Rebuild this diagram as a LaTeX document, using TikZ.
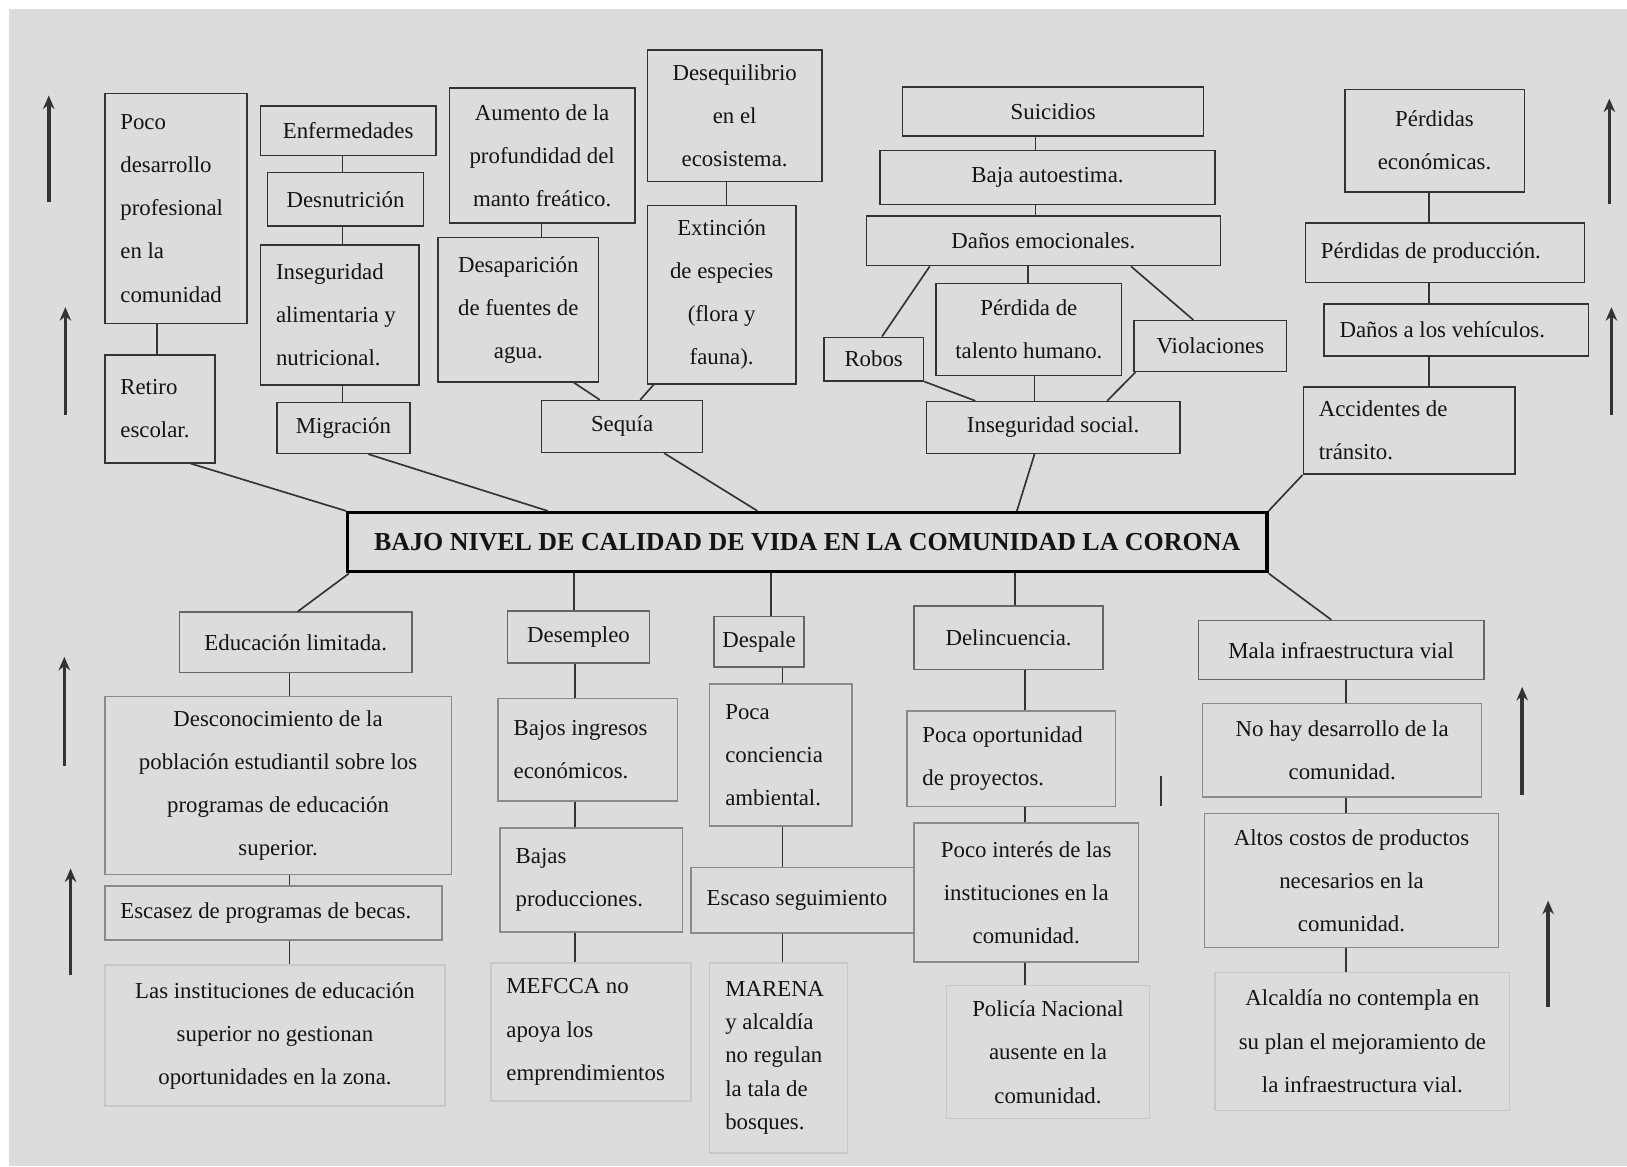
\documentclass[tikz,border=0pt]{standalone}
\usepackage{fontspec}
\setmainfont{Liberation Serif}
\usetikzlibrary{arrows.meta}
\definecolor{fondo}{HTML}{DCDCDC}
\definecolor{borde}{HTML}{333333}
\definecolor{bordem}{HTML}{666666}
\definecolor{bordeg}{HTML}{8A8A8A}
\definecolor{bordec}{HTML}{C8C8C8}
\definecolor{texto}{HTML}{141414}
\newcommand\fsz{\fontsize{22}{41.5}\selectfont}

\begin{document}
\begin{tikzpicture}[x=1pt,y=-1pt,
	caja/.style={draw=borde,line width=1.4pt,inner sep=0pt,font=\fsz,text=texto,align=center},
	cajam/.style={caja,draw=bordem},
	cajag/.style={caja,draw=bordeg},
	cajac/.style={caja,draw=bordec},
	tam/.style 2 args={minimum width=#1,minimum height=#2},
	izq/.style={text width=#1,align=flush left},
	enlace/.style={draw=borde,line width=1.6pt},
	flecha/.style={draw=borde,line width=3.5pt,-{Stealth[length=13pt,width=11pt]}}]
	\useasboundingbox (0,0) rectangle (1568,1124);
	\fill[white] (0,0) rectangle (1568,1124);
	\fill[fondo] (9,9) rectangle (1568,1124);

	% efectos
	\node[caja,tam={137pt}{222pt},izq=107pt] (poco) at (169.5,201) {Poco\\desarrollo\\profesional\\en la\\comunidad};
	\node[caja,tam={106pt}{104pt},izq=76pt] (retiro) at (154,394) {Retiro\\escolar.};
	\node[caja,tam={169pt}{48pt}] (enferm) at (335.5,126) {Enfermedades};
	\node[caja,tam={150pt}{52pt}] (desnut) at (333,192) {Desnutrición};
	\node[caja,tam={153pt}{135pt},izq=123pt] (insal) at (327.5,303.5) {Inseguridad\\alimentaria y\\nutricional.};
	\node[caja,tam={128pt}{49pt}] (migra) at (331,412.5) {Migración};
	\node[caja,tam={179pt}{130pt}] (aumento) at (522.5,150) {Aumento de la\\profundidad del\\manto freático.};
	\node[caja,tam={155pt}{139pt}] (desap) at (499.5,298.5) {Desaparición\\de fuentes de\\agua.};
	\node[caja,tam={168pt}{127pt}] (deseq) at (708,111.5) {Desequilibrio\\en el\\ecosistema.};
	\node[caja,tam={143pt}{172pt}] (extin) at (695.5,284) {Extinción\\de especies\\(flora y\\fauna).};
	\node[caja,tam={155pt}{50pt}] (sequia) at (599.5,411) {Sequía};
	\node[caja,tam={290pt}{47pt}] (suic) at (1015,107.5) {Suicidios};
	\node[caja,tam={323pt}{52pt}] (autoest) at (1009.5,171) {Baja autoestima.};
	\node[caja,tam={341pt}{48pt}] (danos) at (1005.5,232) {Daños emocionales.};
	\node[caja,tam={96pt}{42pt}] (robos) at (842,346) {Robos};
	\node[caja,tam={179pt}{89pt}] (talento) at (991.5,317.5) {Pérdida de\\talento humano.};
	\node[caja,tam={147pt}{49pt}] (violac) at (1166.5,333.5) {Violaciones};
	\node[caja,tam={244pt}{50pt}] (insoc) at (1015,412) {Inseguridad social.};
	\node[caja,tam={173pt}{99pt}] (peco) at (1382.5,135.5) {Pérdidas\\económicas.};
	\node[caja,tam={269pt}{57pt},izq=239pt] (pprod) at (1392.5,243.5) {Pérdidas de producción.};
	\node[caja,tam={255pt}{50pt},izq=225pt] (vehic) at (1403.5,318) {Daños a los vehículos.};
	\node[caja,tam={204pt}{84pt},izq=174pt] (accid) at (1358,415) {Accidentes de\\tránsito.};

	% problema central
	\node[caja,draw=black,line width=3.2pt,tam={886pt}{57pt},font=\fontsize{25}{30}\selectfont\bfseries] (central) at (778,522.5) {BAJO NIVEL DE CALIDAD DE VIDA EN LA COMUNIDAD LA CORONA};

	% causas
	\node[cajam,tam={224pt}{58pt}] (educ) at (285,619) {Educación limitada.};
	\node[cajag,tam={334pt}{172pt}] (descon) at (268,757) {Desconocimiento de la\\población estudiantil sobre los\\programas de educación\\superior.};
	\node[cajag,tam={325pt}{52pt},izq=295pt] (escasez) at (263.5,880) {Escasez de programas de becas.};
	\node[cajac,tam={328pt}{136pt}] (instit) at (265,998) {Las instituciones de educación\\superior no gestionan\\oportunidades en la zona.};
	\node[cajam,tam={137pt}{50pt}] (desemp) at (557.5,614) {Desempleo};
	\node[cajag,tam={173pt}{99pt},izq=143pt] (ingresos) at (566.5,722.5) {Bajos ingresos\\económicos.};
	\node[cajag,tam={176pt}{100pt},izq=146pt] (bprod) at (570,848) {Bajas\\producciones.};
	\node[cajac,tam={193pt}{133pt},izq=163pt] (mefcca) at (569.5,994.5) {MEFCCA no\\apoya los\\emprendimientos};
	\node[cajam,tam={87pt}{49pt}] (despale) at (731.5,618.5) {Despale};
	\node[cajag,tam={137pt}{137pt},izq=107pt] (concien) at (752.5,727.5) {Poca\\conciencia\\ambiental.};
	\node[cajag,tam={215pt}{63pt},izq=185pt] (seguim) at (773.5,867.5) {Escaso seguimiento};
	\node[cajac,tam={133pt}{183pt},izq=103pt,font=\fontsize{22}{32}\selectfont] (marena) at (750.5,1019.5) {MARENA\\y alcaldía\\no regulan\\la tala de\\bosques.};
	\node[cajam,tam={182pt}{61pt}] (delinc) at (972,614.5) {Delincuencia.};
	\node[cajag,tam={201pt}{92pt},izq=171pt] (oportun) at (974.5,731) {Poca oportunidad\\de proyectos.};
	\node[cajag,tam={216pt}{134pt}] (interes) at (989,860) {Poco interés de las\\instituciones en la\\comunidad.};
	\node[cajac,tam={196pt}{128pt}] (policia) at (1010,1014) {Policía Nacional\\ausente en la\\comunidad.};
	\node[cajam,tam={275pt}{57pt}] (vial) at (1292.5,626.5) {Mala infraestructura vial};
	\node[cajag,tam={269pt}{90pt}] (desarr) at (1293.5,723) {No hay desarrollo de la\\comunidad.};
	\node[cajag,tam={283pt}{129pt}] (costos) at (1302.5,848.5) {Altos costos de productos\\necesarios en la\\comunidad.};
	\node[cajac,tam={284pt}{133pt}] (alcaldia) at (1313,1003.5) {Alcaldía no contempla en\\su plan el mejoramiento de\\la infraestructura vial.};

	% enlaces arriba
	\draw[enlace] ([xshift=-18.5pt]poco.south) -- ([xshift=-3pt]retiro.north);
	\draw[enlace] ([xshift=-24pt]retiro.south east) -- (central.north west);
	\draw[enlace] ([xshift=-5.5pt]enferm.south) -- ([xshift=-3pt]desnut.north);
	\draw[enlace] ([xshift=-3pt]desnut.south) -- ([xshift=2.5pt]insal.north);
	\draw[enlace] ([xshift=2.5pt]insal.south) -- ([xshift=-1pt]migra.north);
	\draw[enlace] ([xshift=24pt]migra.south) -- ([xshift=-250pt]central.north);
	\draw[enlace] ([xshift=-0.5pt]aumento.south) -- ([xshift=22.5pt]desap.north);
	\draw[enlace] ([xshift=-8pt]deseq.south) -- ([xshift=4.5pt]extin.north);
	\draw[enlace] ([xshift=53.5pt]desap.south) -- ([xshift=-21.5pt]sequia.north);
	\draw[enlace] ([xshift=-65.5pt]extin.south) -- ([xshift=17.5pt]sequia.north);
	\draw[enlace] ([xshift=40.5pt]sequia.south) -- ([xshift=-48pt]central.north);
	\draw[enlace] ([xshift=-17pt]suic.south) -- ([xshift=-11.5pt]autoest.north);
	\draw[enlace] ([xshift=-11.5pt]autoest.south) -- ([xshift=-7.5pt]danos.north);
	\draw[enlace] ([xshift=-14.5pt]danos.south) -- ([xshift=-0.5pt]talento.north);
	\draw[enlace] ([xshift=-109.5pt]danos.south) -- ([xshift=8pt]robos.north);
	\draw[enlace] ([xshift=84.5pt]danos.south) -- ([xshift=-16.5pt]violac.north);
	\draw[enlace] (robos.south east) -- ([xshift=-75pt]insoc.north);
	\draw[enlace] ([xshift=5.5pt]talento.south) -- ([xshift=-18pt]insoc.north);
	\draw[enlace] ([xshift=2pt]violac.south west) -- ([xshift=52pt]insoc.north);
	\draw[enlace] ([xshift=-18pt]insoc.south) -- ([xshift=202pt]central.north);
	\draw[enlace] ([xshift=-5.5pt]peco.south) -- ([xshift=-15.5pt]pprod.north);
	\draw[enlace] ([xshift=-15.5pt]pprod.south) -- ([xshift=-26.5pt]vehic.north);
	\draw[enlace] ([xshift=-26.5pt]vehic.south) -- ([xshift=19pt]accid.north);
	\draw[enlace] (accid.south west) -- (central.north east);

	% enlaces abajo
	\draw[enlace] ([xshift=3pt]central.south west) -- ([xshift=2pt]educ.north);
	\draw[enlace] ([xshift=-6pt]educ.south) -- ([xshift=11pt]descon.north);
	\draw[enlace] ([xshift=11pt]descon.south) -- ([xshift=15.5pt]escasez.north);
	\draw[enlace] ([xshift=15.5pt]escasez.south) -- ([xshift=14pt]instit.north);
	\draw[enlace] ([xshift=-225pt]central.south) -- ([xshift=-4.5pt]desemp.north);
	\draw[enlace] ([xshift=-3.5pt]desemp.south) -- ([xshift=-12.5pt]ingresos.north);
	\draw[enlace] ([xshift=-12.5pt]ingresos.south) -- ([xshift=-16pt]bprod.north);
	\draw[enlace] ([xshift=-16pt]bprod.south) -- ([xshift=-15.5pt]mefcca.north);
	\draw[enlace] ([xshift=-35pt]central.south) -- ([xshift=11.5pt]despale.north);
	\draw[enlace] ([xshift=22.5pt]despale.south) -- ([xshift=1.5pt]concien.north);
	\draw[enlace] ([xshift=1.5pt]concien.south) -- ([xshift=-19.5pt]seguim.north);
	\draw[enlace] ([xshift=-19.5pt]seguim.south) -- ([xshift=3.5pt]marena.north);
	\draw[enlace] ([xshift=200pt]central.south) -- ([xshift=6pt]delinc.north);
	\draw[enlace] ([xshift=16pt]delinc.south) -- ([xshift=13.5pt]oportun.north);
	\draw[enlace] ([xshift=13.5pt]oportun.south) -- ([xshift=-1pt]interes.north);
	\draw[enlace] ([xshift=-1pt]interes.south) -- ([xshift=-22pt]policia.north);
	\draw[enlace] (central.south east) -- ([xshift=-9.5pt]vial.north);
	\draw[enlace] ([xshift=4.5pt]vial.south) -- ([xshift=3.5pt]desarr.north);
	\draw[enlace] ([xshift=3.5pt]desarr.south) -- ([xshift=-5.5pt]costos.north);
	\draw[enlace] ([xshift=-5.5pt]costos.south) -- ([xshift=-16pt]alcaldia.north);

	% flechas
	\draw[flecha] (47,195) -- (47,92);
	\draw[flecha] (63,400) -- (63,296);
	\draw[flecha] (1551,197) -- (1551,95);
	\draw[flecha] (1553,400) -- (1553,296);
	\draw[flecha] (62,738) -- (62,633);
	\draw[flecha] (68,940) -- (68,837);
	\draw[flecha] (1467,766) -- (1467,662);
	\draw[flecha] (1492,970) -- (1492,868);
	\draw[borde,line width=1.8pt] (1119,748) -- (1119,777);
\end{tikzpicture}
\end{document}
